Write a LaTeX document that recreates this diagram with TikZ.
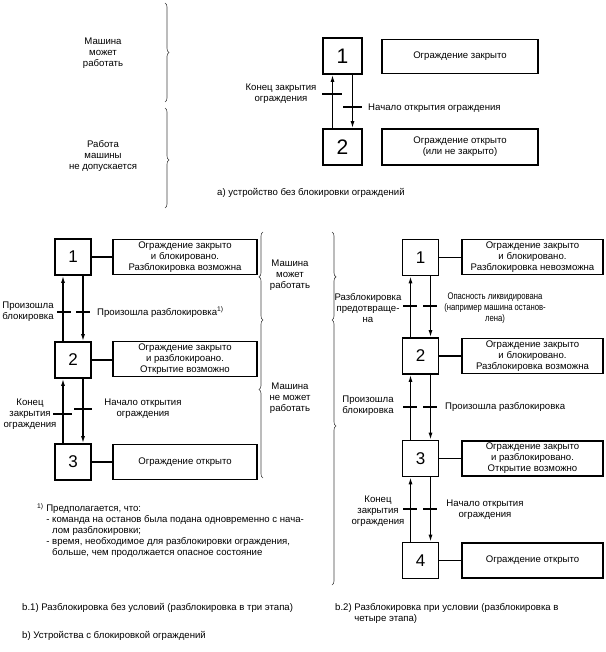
\documentclass[tikz,border=0pt]{standalone}
\usepackage{fontspec}
\setmainfont{Liberation Sans}
\newfontfamily\narrowfont[FakeStretch=0.8]{Liberation Sans}
\usetikzlibrary{arrows.meta,decorations.pathreplacing}
\begin{document}
\begin{tikzpicture}[x=1pt,y=-1pt,
  state/.style={draw, line width=1.6pt, minimum width=36pt, minimum height=36pt, inner sep=0pt, font=\fontsize{17}{17}\selectfont},
  statea/.style={state, minimum width=39pt, font=\fontsize{21}{21}\selectfont},
  lbl/.style={draw, line width=1.6pt, minimum width=144pt, minimum height=35pt, align=center, inner sep=1pt, font=\fontsize{9.6}{11}\selectfont},
  txt/.style={align=center, inner sep=0pt, font=\fontsize{9.6}{11}\selectfont},
  flow/.style={line width=1.3pt, -{Latex[length=7pt,width=4pt]}},
  joinline/.style={line width=1.3pt},
  tickmark/.style={line width=1.8pt},
  br/.style={decorate, decoration={brace, amplitude=4pt, aspect=#1}, line width=0.6pt, black!75}
]
\useasboundingbox (0,0) rectangle (605,652);

% ---------- part a ----------
\node[statea] (a1) at (342.5,56) {1};
\node[statea] (a2) at (342.5,147) {2};
\node[lbl, minimum width=156pt, minimum height=34pt] (la1) at (460,56.5) {Ограждение закрыто};
\node[lbl, minimum width=156pt, minimum height=36pt] (la2) at (460,147) {Ограждение открыто\\(или не закрыто)};
\draw[flow] ([xshift=-10pt]a2.north) -- ([xshift=-10pt]a1.south);
\draw[flow] ([xshift=10pt]a1.south) -- ([xshift=10pt]a2.north);
\draw[tickmark] (322,94) -- (342,94);
\draw[tickmark] (343,107) -- (362,107);
\node[txt] (ta1) at (281,94) {Конец закрытия\\ограждения};
\node[txt, anchor=west] (ta2) at (368,108) {Начало открытия ограждения};
\node[txt] (ma1) at (103,53) {Машина\\может\\работать};
\node[txt] (ma2) at (103,156) {Работа\\машины\\не допускается};
\draw[br=0.5] (165,3) -- (165,102);
\draw[br=0.52] (165,108) -- (165,208);
\node[txt, anchor=west] (capa) at (217,193) {а) устройство без блокировки ограждений};

% ---------- part b.1 ----------
\node[state] (b1) at (73,257) {1};
\node[state] (b2) at (73,360) {2};
\node[state] (b3) at (73,462) {3};
\node[lbl] (lb1) at (185,257) {Ограждение закрыто\\и блокировано.\\Разблокировка возможна};
\node[lbl] (lb2) at (185,359) {Ограждение закрыто\\и разблокироано.\\Открытие возможно};
\node[lbl] (lb3) at (185,462) {Ограждение открыто};
\foreach \s in {1,2,3}{\draw[joinline] (b\s.east) -- (b\s.east -| lb\s.west);}
\draw[flow] ([xshift=-10pt]b2.north) -- ([xshift=-10pt]b1.south);
\draw[flow] ([xshift=10pt]b1.south) -- ([xshift=10pt]b2.north);
\draw[flow] ([xshift=-10pt]b3.north) -- ([xshift=-10pt]b2.south);
\draw[flow] ([xshift=10pt]b2.south) -- ([xshift=10pt]b3.north);
\draw[tickmark] (57,312) -- (71,312);
\draw[tickmark] (76,312) -- (90,312);
\draw[tickmark] (53,414) -- (72,414);
\draw[tickmark] (74,409) -- (92,409);
\node[txt] (tb1) at (28,312) {Произошла\\блокировка};
\node[txt, anchor=west] (tb2) at (97,312) {Произошла разблокировка\textsuperscript{1)}};
\node[txt] (tb3) at (30,414) {Конец\\закрытия\\ограждения};
\node[txt] (tb4) at (143,409) {Начало открытия\\ограждения};

% middle labels
\node[txt] (mb1) at (290,275) {Машина\\может\\работать};
\node[txt] (mb2) at (290,398) {Машина\\не может\\работать};
\draw[br=0.49] (263,320) -- (263,232);
\draw[br=0.56] (263,478) -- (263,320);
\draw[br=0.51] (332,232) -- (332,320);
\draw[br=0.4] (332,320) -- (332,585);

% footnote
\node[txt, anchor=north west, align=left] (fn) at (37,503)
 {\textsuperscript{1)} Предполагается, что:\\
  \phantom{\textsuperscript{1)} }- команда на останов была подана одновременно с нача-\\
  \phantom{\textsuperscript{1)} - }лом разблокировки;\\
  \phantom{\textsuperscript{1)} }- время, необходимое для разблокировки ограждения,\\
  \phantom{\textsuperscript{1)} - }больше, чем продолжается опасное состояние};

% ---------- part b.2 ----------
\node[state] (c1) at (420.5,257.5) {1};
\node[state] (c2) at (420.5,356) {2};
\node[state] (c3) at (420.5,458.5) {3};
\node[state] (c4) at (420.5,560.5) {4};
\node[lbl, minimum width=141pt] (lc1) at (532.5,257) {Ограждение закрыто\\и блокировано.\\Разблокировка невозможна};
\node[lbl, minimum width=141pt] (lc2) at (532.5,356) {Ограждение закрыто\\и блокировано.\\Разблокировка возможна};
\node[lbl, minimum width=141pt] (lc3) at (532.5,458.5) {Ограждение закрыто\\и разблокировано.\\Открытие возможно};
\node[lbl, minimum width=141pt] (lc4) at (532.5,560.5) {Ограждение открыто};
\foreach \s in {1,2,3,4}{\draw[joinline] (c\s.east) -- (c\s.east -| lc\s.west);}
\draw[flow] ([xshift=-10pt]c2.north) -- ([xshift=-10pt]c1.south);
\draw[flow] ([xshift=10pt]c1.south) -- ([xshift=10pt]c2.north);
\draw[flow] ([xshift=-10pt]c3.north) -- ([xshift=-10pt]c2.south);
\draw[flow] ([xshift=10pt]c2.south) -- ([xshift=10pt]c3.north);
\draw[flow] ([xshift=-10pt]c4.north) -- ([xshift=-10pt]c3.south);
\draw[flow] ([xshift=10pt]c3.south) -- ([xshift=10pt]c4.north);
\foreach \yy in {306,407,509}{
  \draw[tickmark] (403,\yy) -- (417,\yy);
  \draw[tickmark] (423,\yy) -- (437,\yy);
}
\node[txt] (tc1) at (368,308) {Разблокировка\\предотвраще-\\на};
\node[txt, font=\fontsize{9.6}{11}\narrowfont] (tc2) at (495,308) {Опасность ликвидирована\\(например машина останов-\\лена)};
\node[txt] (tc3) at (368,406) {Произошла\\блокировка};
\node[txt, anchor=west] (tc4) at (445,407) {Произошла разблокировка};
\node[txt] (tc5) at (378,511) {Конец\\закрытия\\ограждения};
\node[txt] (tc6) at (485,510) {Начало открытия\\ограждения};

% captions
\node[txt, anchor=west] (capb1) at (22,608) {b.1) Разблокировка без условий (разблокировка в три этапа)};
\node[txt, anchor=north west, align=left] (capb2) at (335,603) {b.2) Разблокировка при условии (разблокировка в\\\phantom{b.2) }четыре этапа)};
\node[txt, anchor=west] (capb) at (22,636) {b) Устройства с блокировкой ограждений};
\end{tikzpicture}
\end{document}
